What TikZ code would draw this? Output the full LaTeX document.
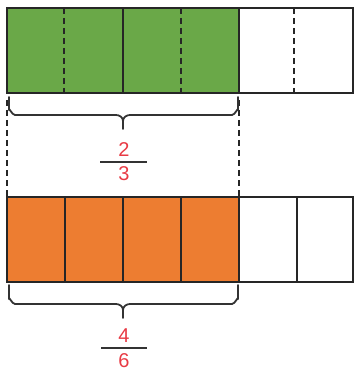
\documentclass[tikz,border=0pt]{standalone}
\usepackage{fontspec}
\setmainfont{Liberation Sans}
\definecolor{barGreen}{RGB}{106,168,72}
\definecolor{barOrange}{RGB}{237,125,49}
\definecolor{numRed}{RGB}{232,58,68}
\begin{document}
\begin{tikzpicture}[x=1pt,y=-1pt,
  cellline/.style={line width=1.6pt,black!85},
  dashline/.style={line width=1.6pt,black!85,dash pattern=on 6pt off 4pt},
  bracestyle/.style={line width=1.8pt,black!80,line cap=round,line join=round},
  digit/.style={text=numRed,font=\fontsize{20}{20}\selectfont,inner sep=0pt},
  fracbar/.style={line width=1.8pt,black!80}]
\useasboundingbox (0,0) rectangle (354,371);
% top bar
\fill[barGreen] (7,8) rectangle (239,93);
\draw[cellline] (7,8) rectangle (353,93);
\draw[cellline] (123,8) -- (123,93);
\draw[cellline] (239,8) -- (239,93);
\draw[dashline] (64,8) -- (64,93);
\draw[dashline] (181,8) -- (181,93);
\draw[dashline] (294,8) -- (294,93);
% bottom bar
\fill[barOrange] (7,197) rectangle (239,282);
\draw[cellline] (7,197) rectangle (353,282);
\foreach \xx in {65,123,181,239,297} \draw[cellline] (\xx,197) -- (\xx,282);
% dashed guides
\coordinate (gl1) at (7,100); \coordinate (gl2) at (7,196);
\coordinate (gr1) at (239,100); \coordinate (gr2) at (239,196);
\draw[dashline] (gl1) -- (gl2);
\draw[dashline] (gr1) -- (gr2);
% top brace
\draw[bracestyle] (9,97) -- (9,110) to[out=90,in=180] ++(6,5) -- (116,115) to[out=0,in=90] (123,121) -- (123,129);
\draw[bracestyle] (238,97) -- (238,110) to[out=90,in=0] ++(-6,5) -- (130,115) to[out=180,in=90] (123,121);
% bottom brace
\draw[bracestyle] (9,285) -- (9,299) to[out=90,in=180] ++(6,5) -- (116,304) to[out=0,in=90] (123,310) -- (123,318);
\draw[bracestyle] (238,285) -- (238,299) to[out=90,in=0] ++(-6,5) -- (130,304) to[out=180,in=90] (123,310);
% fractions
\node[digit] (n1) at (124,150) {2};
\node[digit] (d1) at (124,174) {3};
\draw[fracbar] (100,162) -- (147,162);
\node[digit] (n2) at (124,336) {4};
\node[digit] (d2) at (124,361) {6};
\draw[fracbar] (101,348) -- (147,348);
\end{tikzpicture}
\end{document}
